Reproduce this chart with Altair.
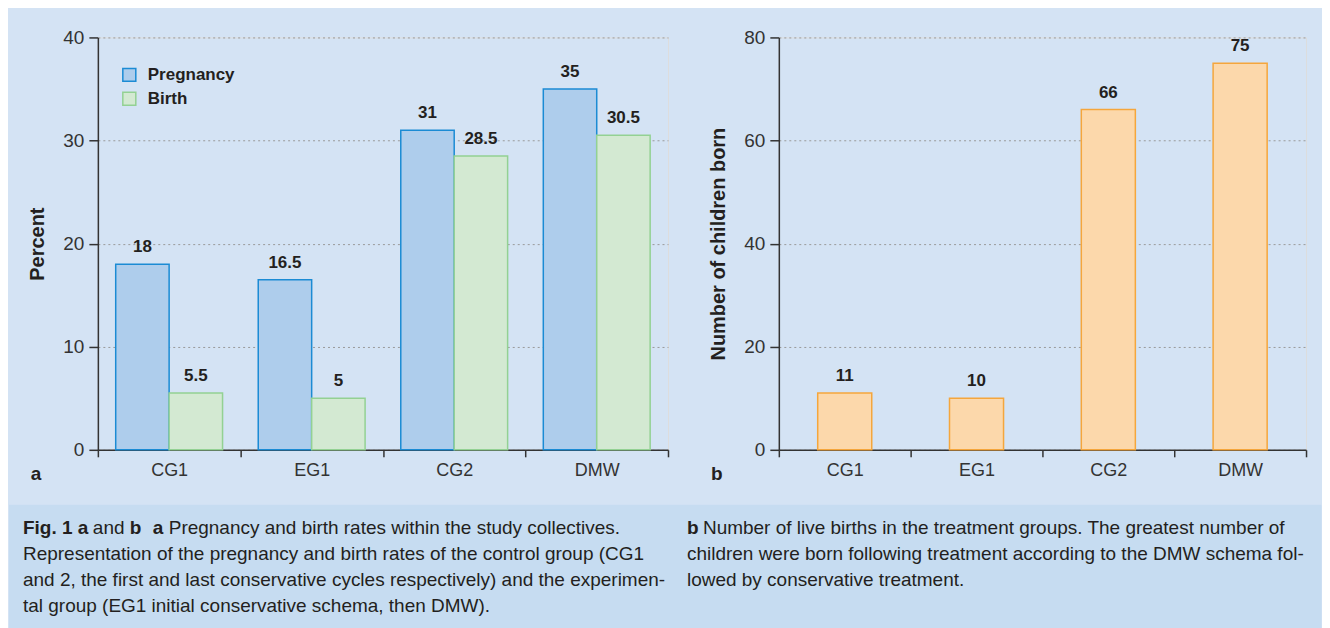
import altair as alt
import pandas as pd

# ---------------- data ----------------
groups = ["CG1", "EG1", "CG2", "DMW"]
series = ["Pregnancy", "Birth"]
pregnancy = [18, 16.5, 31, 35]
birth = [5.5, 5, 28.5, 30.5]
children = [11, 10, 66, 75]
pct_ticks = [0, 10, 20, 30, 40]
child_ticks = [0, 20, 40, 60, 80]
panel_letters = ["a", "b"]
y_titles = ["Percent", "Number of children born"]

cap_left_head = [("Fig. 1 a", "bold"), ("and", "normal"), ("b", "bold"), ("a", "bold"),
                 ("Pregnancy and birth rates within the study collectives.", "normal")]
cap_left_lines = [
    "Representation of the pregnancy and birth rates of the control group (CG1",
    "and 2, the first and last conservative cycles respectively) and the experimen-",
    "tal group (EG1 initial conservative schema, then DMW).",
]
cap_right_head = [("b", "bold"),
                  ("Number of live births in the treatment groups. The greatest number of", "normal")]
cap_right_lines = [
    "children were born following treatment according to the DMW schema fol-",
    "lowed by conservative treatment.",
]

# ---------------- style ----------------
FONT = "Liberation Sans"
CAP_FONT = "Liberation Sans"
INK = "#231f20"
AXIS_INK = "#333333"
BG = "#d4e3f4"
CAP_BG = "#c6dcf1"
FILL_A = ["#aecdec", "#d3e9d2"]
STROKE_A = ["#1b8bd4", "#93d193"]
FILL_B = "#fcd8ab"
STROKE_B = "#f5a63c"
W_A, W_B, H = 571, 528, 413
LEFT = 89            # distance from svg left edge to panel a plot
TOP = 28             # distance from svg top edge to the plots
TOTAL_W = 1314       # full width of the coloured area


def y_axis(title, ticks):
    return alt.Axis(values=ticks, title=title, titleFont=FONT, titleFontSize=20,
                    titleFontWeight="bold", titleColor=INK, titleX=-60, titleY=H / 2,
                    titleAngle=270, titleAlign="center", titleBaseline="middle",
                    labelFont=FONT, labelFontSize=19, labelColor=AXIS_INK, labelPadding=5,
                    tickSize=9, tickWidth=1.5, tickColor=AXIS_INK,
                    domainColor=AXIS_INK, domainWidth=1.5,
                    grid=True, gridColor="#9a9a9a", gridDash=[2, 3], gridWidth=1)


def x_axis():
    return alt.Axis(title=None, labelAngle=0, labelFont=FONT, labelFontSize=18,
                    labelColor=AXIS_INK, labelPadding=5, tickSize=7, tickWidth=1.5,
                    tickColor=AXIS_INK, tickBand="extent", domainColor=AXIS_INK,
                    domainWidth=1.5, grid=False)


def extender(x_left):
    return alt.Chart(pd.DataFrame({"k": [0]})).mark_rule(stroke="black", strokeOpacity=0).encode(
        x=alt.value(x_left), y=alt.value(-TOP), y2=alt.value(H + 53))


def letter(t):
    return alt.Chart(pd.DataFrame({"t": [t]})).mark_text(
        x=-62, y=H + 30, font=FONT, fontSize=19, fontWeight="bold", color=INK,
        align="center", baseline="alphabetic").encode(text="t:N")


legend_props = dict(orient="none", legendX=23, legendY=29, title=None, symbolType="square",
                    symbolSize=169, symbolStrokeWidth=1.5, labelFont=FONT, labelFontSize=17,
                    labelFontWeight="bold", labelColor=INK, labelOffset=10, rowPadding=5,
                    padding=0)

# ---------------- panel a ----------------
df_a = pd.DataFrame({
    "group": groups * 2,
    "series": [series[0]] * len(groups) + [series[1]] * len(groups),
    "value": pregnancy + birth,
})

xa = alt.X("group:N", sort=groups, scale=alt.Scale(paddingInner=0, paddingOuter=0), axis=x_axis())
xoff = alt.XOffset("series:N", sort=series, scale=alt.Scale(paddingInner=0, paddingOuter=0.334))
ya = alt.Y("value:Q", scale=alt.Scale(domain=[0, 40], nice=False), axis=y_axis(y_titles[0], pct_ticks))

bars_a = alt.Chart(df_a).mark_bar(strokeWidth=1.5).encode(
    x=xa, xOffset=xoff, y=ya,
    fill=alt.Fill("series:N", sort=series, scale=alt.Scale(domain=series, range=FILL_A),
                  legend=alt.Legend(**legend_props)),
    stroke=alt.Stroke("series:N", sort=series, scale=alt.Scale(domain=series, range=STROKE_A),
                      legend=alt.Legend(**legend_props)),
)
labels_a = alt.Chart(df_a).mark_text(font=FONT, fontSize=17, fontWeight="bold", color=INK,
                                     baseline="alphabetic", dy=-12).encode(
    x=xa, xOffset=xoff, y=ya, text=alt.Text("value:Q", format="~g"))

panel_a = alt.layer(bars_a, labels_a, letter(panel_letters[0]), extender(-LEFT)).properties(
    width=W_A, height=H)

# ---------------- panel b ----------------
df_b = pd.DataFrame({"group": groups, "value": children})
xb = alt.X("group:N", sort=groups, scale=alt.Scale(paddingInner=0, paddingOuter=0), axis=x_axis())
yb = alt.Y("value:Q", scale=alt.Scale(domain=[0, 80], nice=False), axis=y_axis(y_titles[1], child_ticks))

bars_b = alt.Chart(df_b).mark_bar(width={"band": 0.41}, fill=FILL_B, stroke=STROKE_B,
                                  strokeWidth=1.5).encode(x=xb, y=yb)
labels_b = alt.Chart(df_b).mark_text(font=FONT, fontSize=17, fontWeight="bold", color=INK,
                                     baseline="alphabetic", dy=-12).encode(
    x=xb, y=yb, text=alt.Text("value:Q", format="~g"))

panel_b = alt.layer(bars_b, labels_b, letter(panel_letters[1]), extender(-108)).properties(
    width=W_B, height=H)

# ---------------- caption ----------------
CAP_SIZE = 19
CAP_H = 131
LINE0 = 23
LINE_H = 26.3


def cap_text(t, page_x, y, weight):
    # caption group origin is aligned with panel a's plot (page x = 97)
    return alt.Chart(pd.DataFrame({"t": [t]})).mark_text(
        x=page_x - 97, y=y, font=CAP_FONT, fontSize=CAP_SIZE, fontWeight=weight, color=INK,
        align="left", baseline="middle").encode(text="t:N")


cap_bg = alt.Chart(pd.DataFrame({"k": [0]})).mark_rect(fill=CAP_BG).encode(
    x=alt.value(-LEFT), x2=alt.value(TOTAL_W - LEFT), y=alt.value(0), y2=alt.value(CAP_H))

cap_layers = [cap_bg]
left_head_x = [22, 92, 129, 152, 168]
for (t, w), x in zip(cap_left_head, left_head_x):
    cap_layers.append(cap_text(t, x, LINE0, w))
for i, t in enumerate(cap_left_lines):
    cap_layers.append(cap_text(t, 22, LINE0 + LINE_H * (i + 1), "normal"))
right_head_x = [687, 703]
for (t, w), x in zip(cap_right_head, right_head_x):
    cap_layers.append(cap_text(t, x, LINE0, w))
for i, t in enumerate(cap_right_lines):
    cap_layers.append(cap_text(t, 687, LINE0 + LINE_H * (i + 1), "normal"))

caption = alt.layer(*cap_layers).properties(
    width=TOTAL_W - LEFT, height=CAP_H,
    view=alt.ViewBackground(fill=CAP_BG, stroke="transparent"))

# ---------------- assemble ----------------
top = alt.hconcat(panel_a, panel_b, spacing=0)
chart = alt.vconcat(top, caption, spacing=0, padding=0, background=BG).configure_view(
    fill="white", stroke="transparent").configure(font=FONT)

chart.save("out.html", embed_options={"renderer": "svg", "actions": False})
